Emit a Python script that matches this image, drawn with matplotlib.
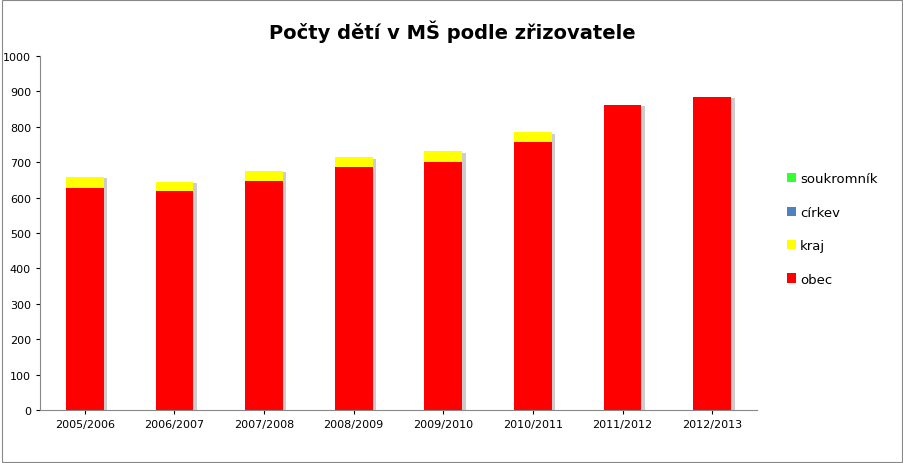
import matplotlib
matplotlib.use("Agg")
import matplotlib.pyplot as plt
import numpy as np

years = ["2005/2006","2006/2007","2007/2008","2008/2009","2009/2010","2010/2011","2011/2012","2012/2013"]
obec = [627, 619, 647, 686, 701, 757, 862, 884]
kraj = [31, 26, 28, 28, 30, 28, 0, 0]
cirkev = [0]*8
soukromnik = [0]*8

fig = plt.figure(figsize=(9.04, 4.64), dpi=100)
fig.patches.append(plt.Rectangle((0.002,0.002),0.996,0.996,transform=fig.transFigure,fill=False,edgecolor="#888888",lw=0.8))
ax = fig.add_axes([40/904, 1-411/464, 717/904, 354/464])
x = np.arange(len(years))
w = 0.42
ob = np.array(obec); kr = np.array(kraj); ci = np.array(cirkev)
ax.bar(x+0.04, ob+kr, w, bottom=-4, color="#cccccc", zorder=1)
b1 = ax.bar(x, ob, w, color="#ff0000", label="obec", zorder=2)
b2 = ax.bar(x, kr, w, bottom=ob, color="#ffff00", label="kraj", zorder=2)
b3 = ax.bar(x, ci, w, bottom=ob+kr, color="#4f81bd", label="církev", zorder=2)
b4 = ax.bar(x, soukromnik, w, bottom=ob+kr+ci, color="#33ff33", label="soukromník", zorder=2)
ax.set_xlim(-0.5, 7.5)
ax.set_ylim(0, 1000)
ax.set_yticks(range(0, 1001, 100))
ax.set_xticks(x)
ax.set_xticklabels(years)
ax.tick_params(labelsize=8, length=3)
for s in ["top", "right"]:
    ax.spines[s].set_visible(False)
for s in ["left", "bottom"]:
    ax.spines[s].set_color("#888888")
fig.suptitle("Počty dětí v MŠ podle zřizovatele", y=0.955, fontsize=14, fontweight="bold", family="DejaVu Sans")
fig.legend(handles=[b4, b3, b2, b1], loc="center left", bbox_to_anchor=(775/904, 1-230/464),
           frameon=False, fontsize=9.5, handlelength=0.7, handleheight=0.7, labelspacing=1.55, handletextpad=0.3)
fig.savefig("out.png", dpi=100)
